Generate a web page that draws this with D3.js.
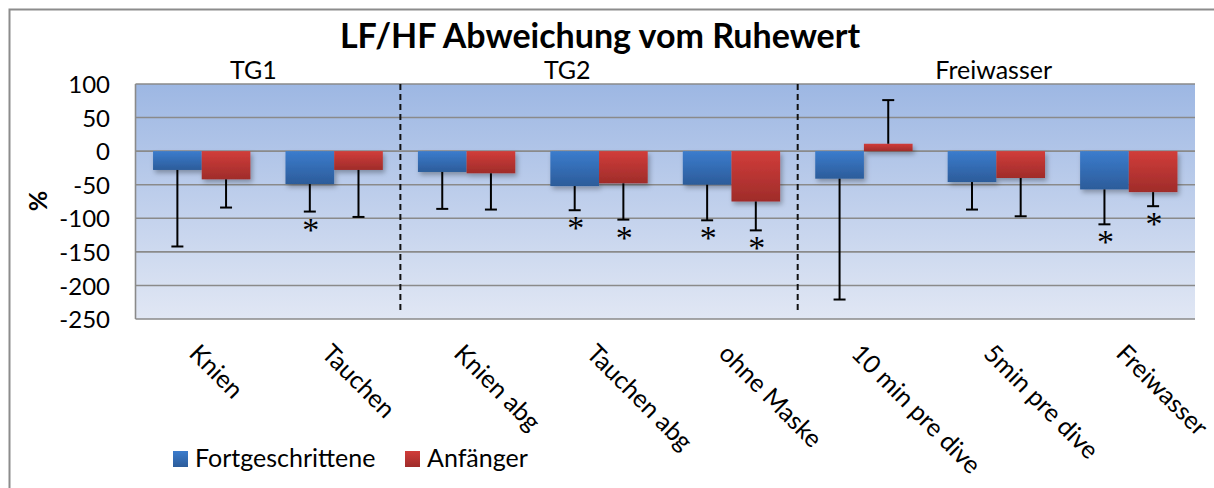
<!DOCTYPE html>
<html>
<head>
<meta charset="utf-8">
<script src="https://cdn.jsdelivr.net/npm/d3@7"></script>
<style>
  body { margin: 0; background: #fff; }
  text { font-family: Lato, "Open Sans", sans-serif; fill: #000; }
</style>
</head>
<body>
<div id="chart"></div>
<script>
// data
var categories = ["Knien", "Tauchen", "Knien abg", "Tauchen abg", "ohne Maske", "10 min pre dive", "5min pre dive", "Freiwasser"];
var seriesNames = ["Fortgeschrittene", "Anfänger"];
var fortValues = [-28, -49, -31, -52, -50, -41, -46, -57];
var anfValues = [-42, -28, -33, -48, -75, 11, -40, -61];
var fortErr = [114, 41, 55, 36, 53, 180, 41, 52];
var anfErr = [42, 70, 54, 54, 43, 65, 57, 21];
var fortStar = [false, true, false, true, true, false, false, true];
var anfStar = [false, false, false, true, true, false, false, true];
var yTicks = [100, 50, 0, -50, -100, -150, -200, -250];
var groups = ["TG1", "TG2", "Freiwasser"];
var groupPos = [0.89, 3.26, 6.48];   // in category units
var separators = [2, 5];

var width = 1214, height = 488;
var plot = {left: 135.5, right: 1195, top: 84, bottom: 319};

var svg = d3.select("#chart").append("svg")
    .attr("width", width)
    .attr("height", height);

var defs = svg.append("defs");
var bg = defs.append("linearGradient").attr("id", "bg").attr("x1", 0).attr("y1", 0).attr("x2", 0).attr("y2", 1);
bg.append("stop").attr("offset", "0%").attr("stop-color", "#9db7e3");
bg.append("stop").attr("offset", "100%").attr("stop-color", "#e1e7f4");

var gBlue = defs.append("linearGradient").attr("id", "gBlue").attr("x1", 0).attr("y1", 0).attr("x2", 0).attr("y2", 1);
gBlue.append("stop").attr("offset", "0%").attr("stop-color", "#3b7ccd");
gBlue.append("stop").attr("offset", "100%").attr("stop-color", "#2c5c9a");
var gRed = defs.append("linearGradient").attr("id", "gRed").attr("x1", 0).attr("y1", 0).attr("x2", 0).attr("y2", 1);
gRed.append("stop").attr("offset", "0%").attr("stop-color", "#d13d3a");
gRed.append("stop").attr("offset", "100%").attr("stop-color", "#9f2c2a");

var shadow = defs.append("filter").attr("id", "shadow").attr("x", "-20%").attr("y", "-20%").attr("width", "150%").attr("height", "150%");
shadow.append("feDropShadow").attr("dx", 2).attr("dy", 3).attr("stdDeviation", 2.5)
    .attr("flood-color", "#000").attr("flood-opacity", 0.3);

// outer frame
svg.append("rect")
    .attr("x", 9.5).attr("y", 9.5)
    .attr("width", width + 20).attr("height", height + 20)
    .attr("fill", "none").attr("stroke", "#8c8c8c").attr("stroke-width", 2);

// scales
var y = d3.scaleLinear().domain([-250, 100]).range([plot.bottom, plot.top]);
var x0 = d3.scaleBand().domain(categories).range([plot.left, plot.right])
    .paddingInner(0.265).paddingOuter(0.1325);
var x1 = d3.scaleBand().domain(seriesNames).range([0, x0.bandwidth()]);
var catPos = d3.scaleLinear().domain([0, categories.length]).range([plot.left, plot.right]);

// plot background
svg.append("rect")
    .attr("x", plot.left).attr("y", plot.top)
    .attr("width", plot.right - plot.left).attr("height", plot.bottom - plot.top)
    .attr("fill", "url(#bg)");

// grid
svg.append("g").selectAll("line")
    .data(yTicks)
    .join("line")
    .attr("x1", plot.left).attr("x2", plot.right)
    .attr("y1", function(d) { return y(d); })
    .attr("y2", function(d) { return y(d); })
    .attr("stroke", "#8a8a8a").attr("stroke-width", 1.6);

// left axis line
svg.append("line").attr("x1", plot.left).attr("x2", plot.left)
    .attr("y1", plot.top).attr("y2", plot.bottom)
    .attr("stroke", "#8a8a8a").attr("stroke-width", 1.6);

// y tick labels
var yAxis = d3.axisLeft(y).tickValues(yTicks).tickSize(0).tickPadding(0)
    .tickFormat(function(d) { return String(d); });
var ya = svg.append("g").attr("transform", "translate(110,0)").call(yAxis);
ya.select(".domain").remove();
ya.selectAll("text").style("font-size", "24px").style("font-family", "Lato, sans-serif").attr("dy", "0.36em");

// bars
var rows = categories.map(function(c, i) {
  return [
    {cat: c, s: seriesNames[0], v: fortValues[i], e: fortErr[i], star: fortStar[i], fill: "url(#gBlue)"},
    {cat: c, s: seriesNames[1], v: anfValues[i], e: anfErr[i], star: anfStar[i], fill: "url(#gRed)"}
  ];
});
var flat = [].concat.apply([], rows);

var bars = svg.append("g").attr("filter", "url(#shadow)");
bars.selectAll("rect")
    .data(flat)
    .join("rect")
    .attr("x", function(d) { return x0(d.cat) + x1(d.s); })
    .attr("width", x1.bandwidth())
    .attr("y", function(d) { return y(Math.max(0, d.v)); })
    .attr("height", function(d) { return Math.abs(y(d.v) - y(0)); })
    .attr("fill", function(d) { return d.fill; });

// error bars (one sided, away from zero)
function errEnd(d) { return d.v >= 0 ? d.v + d.e : d.v - d.e; }
function cx(d) { return x0(d.cat) + x1(d.s) + x1.bandwidth() / 2; }
var eb = svg.append("g").attr("stroke", "#000").attr("stroke-width", 2);
eb.selectAll("line.stem")
    .data(flat)
    .join("line").attr("class", "stem")
    .attr("x1", cx).attr("x2", cx)
    .attr("y1", function(d) { return y(d.v); })
    .attr("y2", function(d) { return y(errEnd(d)); });
eb.selectAll("line.cap")
    .data(flat)
    .join("line").attr("class", "cap")
    .attr("x1", function(d) { return cx(d) - 6; })
    .attr("x2", function(d) { return cx(d) + 6; })
    .attr("y1", function(d) { return y(errEnd(d)); })
    .attr("y2", function(d) { return y(errEnd(d)); });

// significance stars
svg.append("g").selectAll("text")
    .data(flat.filter(function(d) { return d.star; }))
    .join("text")
    .attr("x", function(d) { return cx(d) + 1; })
    .attr("y", function(d) { return y(errEnd(d)) + 29; })
    .attr("text-anchor", "middle")
    .style("font-family", "'Liberation Serif', serif")
    .style("font-size", "34px")
    .text("*");

// dashed separators
svg.append("g").selectAll("line")
    .data(separators)
    .join("line")
    .attr("x1", function(d) { return catPos(d); })
    .attr("x2", function(d) { return catPos(d); })
    .attr("y1", plot.top).attr("y2", plot.bottom - 5)
    .attr("stroke", "#111").attr("stroke-width", 2)
    .attr("stroke-dasharray", "6,4");

// group labels
svg.append("g").selectAll("text")
    .data(groups)
    .join("text")
    .attr("x", function(d, i) { return catPos(groupPos[i]); })
    .attr("y", 79)
    .attr("text-anchor", "middle")
    .style("font-size", "25px")
    .text(function(d) { return d; });

// x labels
svg.append("g").selectAll("text")
    .data(categories)
    .join("text")
    .attr("transform", function(d) {
      return "translate(" + (x0(d) + x0.bandwidth() / 2 - 14) + "," + 355 + ") rotate(45)";
    })
    .style("font-size", "25px")
    .text(function(d) { return d; });

// title
svg.append("text")
    .attr("x", 600).attr("y", 48)
    .attr("text-anchor", "middle")
    .style("font-size", "34px").style("font-weight", "bold")
    .text("LF/HF Abweichung vom Ruhewert");

// y label
svg.append("text")
    .attr("transform", "translate(47,201) rotate(-90)")
    .attr("text-anchor", "middle")
    .style("font-size", "25px").style("font-weight", "bold")
    .text("%");

// legend
var legX = [173, 405];
var leg = svg.append("g").selectAll("g")
    .data(seriesNames)
    .join("g")
    .attr("transform", function(d, i) { return "translate(" + legX[i] + ",451)"; });
leg.append("rect").attr("width", 15).attr("height", 16)
    .attr("fill", function(d, i) { return i === 0 ? "url(#gBlue)" : "url(#gRed)"; });
leg.append("text").attr("x", 22).attr("y", 16)
    .style("font-size", "25px")
    .text(function(d) { return d; });
</script>
</body>
</html>
